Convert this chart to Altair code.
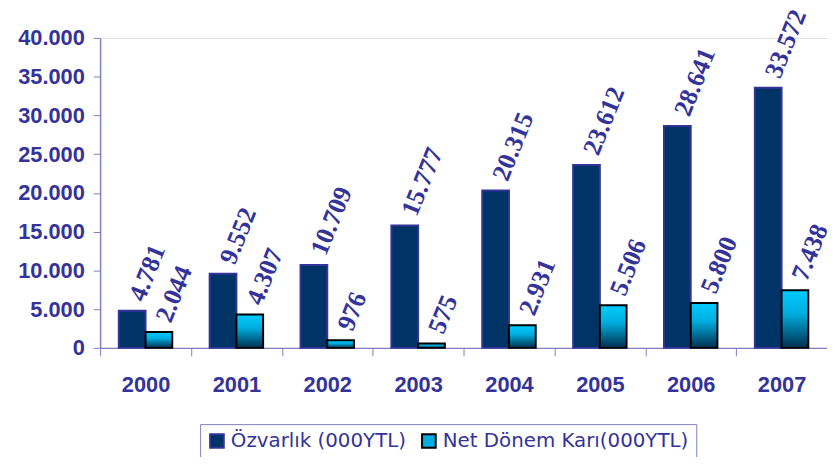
import altair as alt
import pandas as pd

years = ["2000", "2001", "2002", "2003", "2004", "2005", "2006", "2007"]
ozvarlik = [4781, 9552, 10709, 15777, 20315, 23612, 28641, 33572]
net_kar = [2044, 4307, 976, 575, 2931, 5506, 5800, 7438]
series_names = ["Özvarlık (000YTL)", "Net Dönem Karı(000YTL)"]

rows = []
for i, y in enumerate(years):
    rows.append({"year": y, "series": series_names[0], "value": ozvarlik[i]})
    rows.append({"year": y, "series": series_names[1], "value": net_kar[i]})
df = pd.DataFrame(rows)

TXT = "#333399"
NAVY = "#003366"
AXIS = "#8080c0"

cyan_grad = {
    "gradient": "linear", "x1": 0, "x2": 0, "y1": 0, "y2": 1,
    "stops": [
        {"offset": 0, "color": "#00ccff"},
        {"offset": 0.4, "color": "#00aee0"},
        {"offset": 1, "color": "#002f4f"},
    ],
}

x_enc = alt.X("year:N", sort=years, title=None,
              scale=alt.Scale(paddingInner=0, paddingOuter=0),
              axis=alt.Axis(labelAngle=0, labelFont="Liberation Sans", labelFontWeight="bold",
                            labelFontSize=22, labelColor=TXT, domainColor=AXIS, tickColor=AXIS,
                            tickSize=8, tickBand="extent", labelPadding=19, domainWidth=1.5))
xo_enc = alt.XOffset("series:N", sort=series_names,
                     scale=alt.Scale(domain=series_names, paddingOuter=0.7, paddingInner=0))
y_enc = alt.Y("value:Q", title=None,
              scale=alt.Scale(domain=[0, 40000]),
              axis=alt.Axis(values=list(range(0, 40001, 5000)), grid=False, labelOverlap=False,
                            labelExpr="replace(format(datum.value, ','), ',', '.')",
                            labelFont="Liberation Sans", labelFontWeight="bold", labelFontSize=22,
                            labelColor=TXT, domainColor=AXIS, tickColor=AXIS, tickSize=7,
                            labelPadding=9, domainWidth=1.5))

is_net = alt.datum.series == series_names[1]

bars = alt.Chart(df).mark_bar(strokeWidth=2).encode(
    x=x_enc,
    xOffset=xo_enc,
    y=y_enc,
    fill=alt.condition(is_net, alt.value(cyan_grad), alt.value(NAVY)),
    stroke=alt.condition(is_net, alt.value("#000000"), alt.value(TXT)),
)

leg = dict(title=None, orient="none", legendX=101, legendY=390, direction="horizontal",
           symbolType="square", symbolSize=190, symbolStrokeWidth=2, symbolOpacity=1,
           labelFont="DejaVu Sans", labelFontSize=20, labelLimit=500,
           labelColor=TXT, strokeColor=AXIS, padding=7, columnPadding=12, labelOffset=4)

legend_layer = alt.Chart(df).mark_point(shape="square", filled=True, size=0, opacity=0).encode(
    x=x_enc,
    xOffset=xo_enc,
    y=y_enc,
    color=alt.Color("series:N", sort=series_names,
                    scale=alt.Scale(domain=series_names, range=[NAVY, "#00aee0"]),
                    legend=alt.Legend(**leg)),
    stroke=alt.Stroke("series:N", sort=series_names,
                      scale=alt.Scale(domain=series_names, range=[TXT, "#000000"]),
                      legend=alt.Legend(**leg)),
)

labels = alt.Chart(df).transform_calculate(
    label="replace(format(datum.value, ','), ',', '.')"
).mark_text(angle=292, align="left", baseline="middle", dx=12,
            font="Liberation Serif", fontWeight="bold", fontStyle="normal",
            fontSize=26, color=TXT).encode(
    x=x_enc,
    xOffset=xo_enc,
    y=y_enc,
    text="label:N",
)

chart = alt.layer(bars, legend_layer, labels).properties(
    width=734, height=313,
    autosize=alt.AutoSizeParams(type="none"),
    padding={"left": 93, "top": 28, "right": 0, "bottom": 108},
).configure_view(stroke=None).configure(background="white")

chart.save("out.html", embed_options={"renderer": "svg", "actions": False})
